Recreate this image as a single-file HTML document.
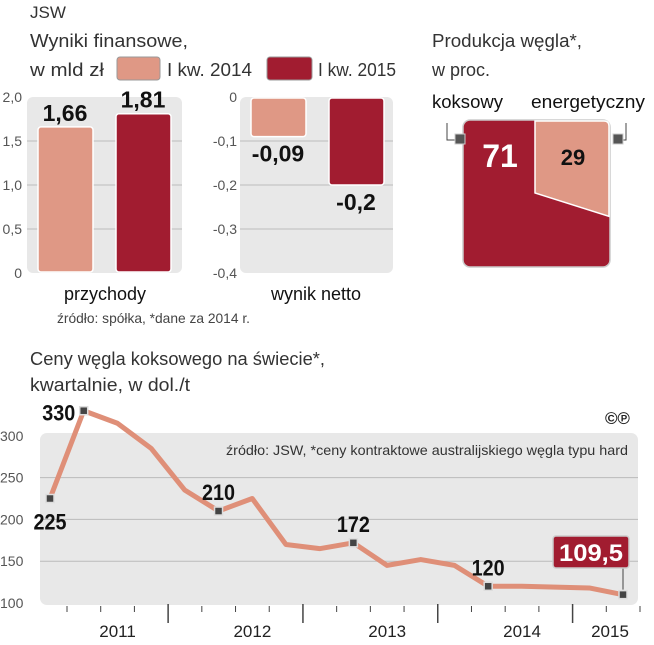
<!DOCTYPE html>
<html><head><meta charset="utf-8"><style>
body{margin:0;background:#fff;}
svg text{font-family:"Liberation Sans",sans-serif;}
</style></head><body>
<svg id="s" width="654" height="640" viewBox="0 0 654 640" xmlns="http://www.w3.org/2000/svg">
<text x="30" y="18" font-size="17" fill="#333">JSW</text>
<text x="30" y="47" font-size="18" fill="#333" textLength="158" lengthAdjust="spacingAndGlyphs">Wyniki finansowe,</text>
<text x="30" y="76" font-size="18" fill="#333" textLength="74" lengthAdjust="spacingAndGlyphs">w mld zł</text>
<rect x="117" y="57" width="43" height="23" rx="3" fill="#df9885" stroke="#999"/>
<text x="167" y="76" font-size="18" fill="#333" textLength="85" lengthAdjust="spacingAndGlyphs">I kw. 2014</text>
<rect x="267" y="57" width="45" height="23" rx="3" fill="#a11c30" stroke="#999"/>
<text x="318" y="76" font-size="18" fill="#333" textLength="78" lengthAdjust="spacingAndGlyphs">I kw. 2015</text>
<text x="432" y="47" font-size="18" fill="#333" textLength="150" lengthAdjust="spacingAndGlyphs">Produkcja węgla*,</text>
<text x="432" y="76" font-size="18" fill="#333">w proc.</text>
<text x="432" y="108" font-size="18" fill="#111" textLength="71" lengthAdjust="spacingAndGlyphs">koksowy</text>
<text x="531" y="108" font-size="18" fill="#111" textLength="114" lengthAdjust="spacingAndGlyphs">energetyczny</text>
<g id="pie"></g>
<g id="bars"></g>
<text x="57" y="323" font-size="14" fill="#444" textLength="193" lengthAdjust="spacingAndGlyphs">źródło: spółka, *dane za 2014 r.</text>
<text x="30" y="365" font-size="18" fill="#333" textLength="295" lengthAdjust="spacingAndGlyphs">Ceny węgla koksowego na świecie*,</text>
<text x="30" y="391" font-size="18" fill="#333" textLength="160" lengthAdjust="spacingAndGlyphs">kwartalnie, w dol./t</text>
<text x="605" y="424" font-size="17" font-weight="bold" fill="#222">©℗</text>
<g id="line"></g>
</svg>
<script>
const NS="http://www.w3.org/2000/svg";
function mk(p,t,a,txt){const e=document.createElementNS(NS,t);for(const k in a)e.setAttribute(k,a[k]);if(txt!=null)e.textContent=txt;p.appendChild(e);return e;}
const barSeries=["I kw. 2014","I kw. 2015"];
const revenueValues=[1.66,1.81];
const revenueLabels=["1,66","1,81"];
const netValues=[-0.09,-0.2];
const netLabels=["-0,09","-0,2"];
const revTicks=[0,0.5,1.0,1.5,2.0];
const revTickLabels=["0","0,5","1,0","1,5","2,0"];
const netTicks=[0,-0.1,-0.2,-0.3,-0.4];
const netTickLabels=["0","-0,1","-0,2","-0,3","-0,4"];
const pieValues=[71,29];
const pieLabels=["71","29"];
const years=["2011","2012","2013","2014","2015"];
const prices=[225,330,315,285,235,210,225,170,165,172,145,152,145,120,120,119,118,110];
const priceLabels={0:"225",1:"330",5:"210",9:"172",13:"120"};
const lastLabel="109,5";
const priceTicks=[100,150,200,250,300];
const colors=["#df9885","#a11c30"];

const B=document.getElementById('bars');
const yR=v=>273-v*88;
let r=mk(B,'rect',{x:27,y:97,width:155,height:176,rx:6,fill:'#e8e8e8'});

revTicks.forEach((t,i)=>{if(t>0&&t<2){let l=mk(B,'line',{x1:27,x2:182,y1:yR(t),y2:yR(t),stroke:'#bbb'});}
 let tx=mk(B,'text',{x:22,y:yR(t)+5,'font-size':14,fill:'#555','text-anchor':'end'},revTickLabels[i]);});
revenueValues.forEach((v,i)=>{const x=38+i*78;
 let b=mk(B,'rect',{x:x,y:yR(v),width:55,height:yR(0)-yR(v)-1,rx:3,fill:colors[i],stroke:'#fff','stroke-width':1.5});
 let t=mk(B,'text',{x:x+27,y:yR(v)-6,'font-size':23,'font-weight':'bold',fill:'#111','text-anchor':'middle'},revenueLabels[i]);});
let xl=mk(B,'text',{x:105,y:300,'font-size':18,fill:'#111','text-anchor':'middle'},'przychody');
const yN=v=>97-v*440;
r=mk(B,'rect',{x:240,y:97,width:153,height:176,rx:6,fill:'#e8e8e8'});

netTicks.forEach((t,i)=>{if(t<0&&t>-0.4){let l=mk(B,'line',{x1:240,x2:393,y1:yN(t),y2:yN(t),stroke:'#bbb'});}
 let tx=mk(B,'text',{x:237,y:yN(t)+5,'font-size':14,fill:'#555','text-anchor':'end'},netTickLabels[i]);});
netValues.forEach((v,i)=>{const x=251+i*78;
 let b=mk(B,'rect',{x:x,y:yN(0)+1,width:55,height:yN(v)-yN(0)-1,rx:3,fill:colors[i],stroke:'#fff','stroke-width':1.5});
 let t=mk(B,'text',{x:x+27,y:yN(v)+25,'font-size':23,'font-weight':'bold',fill:'#111','text-anchor':'middle'},netLabels[i]);});
xl=mk(B,'text',{x:316,y:300,'font-size':18,fill:'#111','text-anchor':'middle'},'wynik netto');

const P=document.getElementById('pie');
const px=463,py=120,pw=147,ph=147;
let sq=mk(P,'rect',{x:px,y:py,width:pw,height:ph,rx:7,fill:colors[1],stroke:'#ccc','stroke-width':1.5});

const frac=pieValues[1]/(pieValues[0]+pieValues[1]);
const cx=535,cy=193,ex=px+pw-1;
const w=ex-cx;
const ey=cy+2*(frac*pw*ph-w*(cy-py))/w;
let sl=mk(P,'path',{d:`M${cx},${py+1} L${ex-5},${py+1} Q${ex},${py+1} ${ex},${py+6} L${ex},${ey} L${cx},${cy} Z`,fill:colors[0],stroke:'#fff','stroke-width':1.5});

let pl=mk(P,'text',{x:500,y:167,'font-size':32,'font-weight':'bold',fill:'#fff','text-anchor':'middle'},pieLabels[0]);
pl=mk(P,'text',{x:573,y:165,'font-size':22,'font-weight':'bold',fill:'#111','text-anchor':'middle'},pieLabels[1]);
[[455,460],[613,618]].forEach((a,i)=>{let l=mk(P,'path',{d:i?'M618,140 L626,140 L626,123':'M459,140 L447,140 L447,123',fill:'none',stroke:'#444'});
 let m=mk(P,'rect',{x:a[0],y:134,width:10,height:10,fill:'#555',stroke:'#ccc'});});

const L=document.getElementById('line');
const xP=i=>50+i*(573/(prices.length-1));
const yP=v=>603-(v-100)*0.836;
let bg=mk(L,'rect',{x:40,y:433,width:598,height:172,rx:7,fill:'#e8e8e8'});
priceTicks.forEach(t=>{if(t>100&&t<300){let l=mk(L,'line',{x1:40,x2:638,y1:yP(t),y2:yP(t),stroke:'#bbb'});}
 let tx=mk(L,'text',{x:0,y:yP(t)+5,'font-size':14,fill:'#555'},String(t));});
let src=mk(L,'text',{x:628,y:455,'font-size':14,fill:'#333','text-anchor':'end',textLength:402,lengthAdjust:'spacingAndGlyphs'},'źródło: JSW, *ceny kontraktowe australijskiego węgla typu hard');
let pl2=mk(L,'polyline',{points:prices.map((v,i)=>xP(i)+','+yP(v)).join(' '),fill:'none',stroke:'#df8f78','stroke-width':5,'stroke-linejoin':'round'});

for(let i=0;i<prices.length;i++){const x=xP(i)+17;const big=(i%4===3);
 let t=mk(L,'line',{x1:x,x2:x,y1:big?604:606,y2:big?623:612,stroke:'#444','stroke-width':big?1.5:1});}
years.forEach((y,i)=>{const x=i<4?xP(i*4+1.5)+17:xP(17)-13;
 let t=mk(L,'text',{x:x,y:637,'font-size':17,fill:'#222','text-anchor':'middle'},y);});
Object.keys(priceLabels).forEach(k=>{const i=+k,v=prices[i];
 let x=xP(i),y=yP(v)-11;
 if(i===0)y=yP(v)+31;
 if(i===1){x=xP(i)-25;y=yP(v)+10;}
 let t=mk(L,'text',{x:x,y:y,'font-size':22,'font-weight':'bold',fill:'#111','text-anchor':'middle',textLength:String(priceLabels[k]).length*11,lengthAdjust:'spacingAndGlyphs'},priceLabels[k]);
 });
const li=prices.length-1;
let ln=mk(L,'line',{x1:xP(li),x2:xP(li),y1:yP(prices[li])-5,y2:567,stroke:'#444'});
let cb=mk(L,'rect',{x:553,y:536,width:76,height:32,rx:3,fill:'#a11c30',stroke:'#ccc','stroke-width':1.5});
let ct=mk(L,'text',{x:591,y:561,'font-size':24,'font-weight':'bold',fill:'#fff','text-anchor':'middle',textLength:64,lengthAdjust:'spacingAndGlyphs'},lastLabel);
[0,1,5,9,13,li].forEach(i=>{let m=mk(L,'rect',{x:xP(i)-4,y:yP(prices[i])-4,width:8,height:8,fill:'#444',stroke:'#ddd','stroke-width':1.5});
 });
</script>
</body></html>
